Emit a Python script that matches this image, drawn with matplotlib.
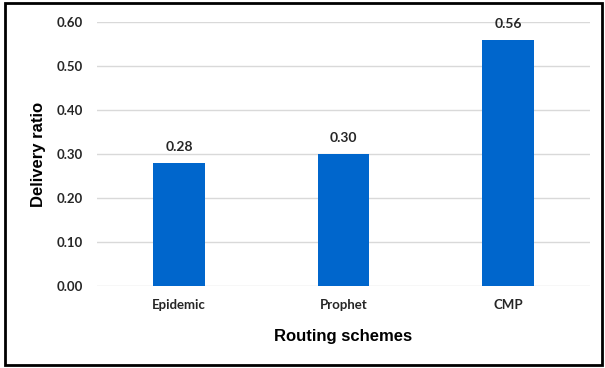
import matplotlib.pyplot as plt
from matplotlib.patches import Rectangle

schemes = ["Epidemic", "Prophet", "CMP"]
delivery_ratio = [0.28, 0.30, 0.56]
yticks = [0.0, 0.1, 0.2, 0.3, 0.4, 0.5, 0.6]

bar_color = "#0066cc"
tick_font = "Lato"
label_font = "Liberation Sans"

fig = plt.figure(figsize=(6.05, 3.68), dpi=100)
ax = fig.add_axes([0.1603, 0.2228, 0.815, 0.7174])

x = range(len(schemes))
bars = ax.bar(x, delivery_ratio, width=0.316, color=bar_color, zorder=3)

for b, v in zip(bars, delivery_ratio):
    ax.annotate(f"{v:.2f}", (b.get_x() + b.get_width() / 2, v),
                xytext=(0, 7), textcoords="offset points",
                ha="center", va="bottom", fontsize=10,
                fontweight="bold", family=tick_font, color="#262626")

ax.set_xlim(-0.5, 2.5)
ax.set_ylim(0, 0.6)
ax.set_yticks(yticks)
ax.set_yticklabels([f"{t:.2f}" for t in yticks])
ax.set_xticks(list(x))
ax.set_xticklabels(schemes)

for lbl in ax.get_xticklabels() + ax.get_yticklabels():
    lbl.set_fontfamily(tick_font)
    lbl.set_fontweight("bold")
    lbl.set_fontsize(9.5)
    lbl.set_color("#262626")

ax.tick_params(axis="y", length=0, pad=10)
ax.tick_params(axis="x", length=0, pad=9)
ax.grid(axis="y", color="#d9d9d9", linewidth=1, zorder=0)
for s in ax.spines.values():
    s.set_visible(False)

ax.set_xlabel("Routing schemes", fontsize=12, fontweight="bold",
              family=label_font, labelpad=13)
ax.set_ylabel("Delivery ratio", fontsize=12, fontweight="bold",
              family=label_font, labelpad=8)

# outer black frame
fig.patches.append(Rectangle((0.009, 0.009), 0.986, 0.982,
                             transform=fig.transFigure, fill=False,
                             edgecolor="black", linewidth=2))

fig.savefig("out.png", dpi=100)
